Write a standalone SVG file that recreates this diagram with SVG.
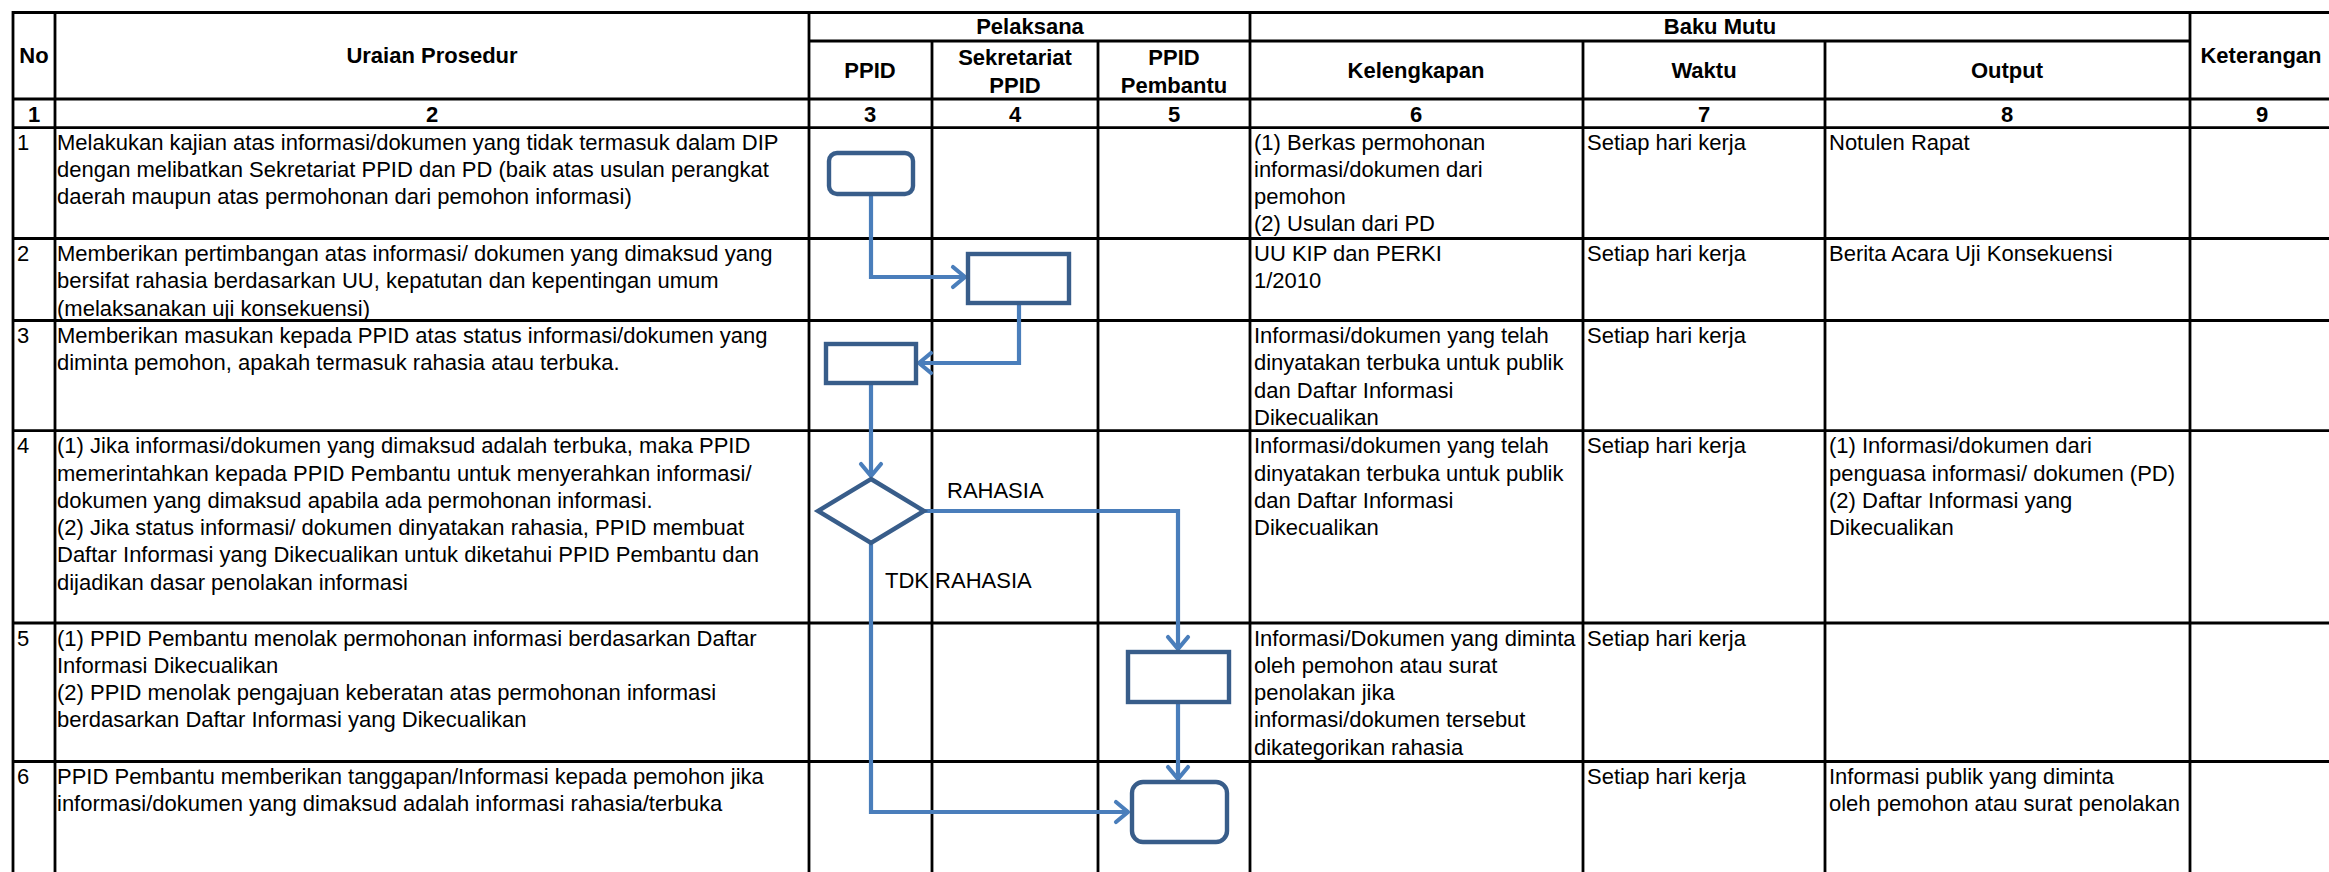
<svg xmlns="http://www.w3.org/2000/svg" width="2329" height="872" viewBox="0 0 2329 872">
<defs>
<style>
.g{stroke:#000;stroke-width:2.8;fill:none}
.h{font-family:"Liberation Sans",Arial,sans-serif;font-size:22px;font-weight:bold;fill:#000;text-anchor:middle}
.t{font-family:"Liberation Sans",Arial,sans-serif;font-size:22px;fill:#000}
.box{fill:#fff;stroke:#385D8A;stroke-width:4.4}
.c{fill:none;stroke:#4A7EBB;stroke-width:4.2;marker-end:url(#arr)}
.lbl{font-family:"Liberation Sans",Arial,sans-serif;font-size:22px;fill:#000}
</style>
<marker id="arr" markerUnits="userSpaceOnUse" markerWidth="34" markerHeight="34" viewBox="-17 -17 34 34" refX="0" refY="0" orient="auto">
<path d="M-12,-10 L0,0 L-12,10" fill="none" stroke="#4A7EBB" stroke-width="4.2" stroke-linecap="round" stroke-linejoin="round"/>
</marker>
</defs>
<rect width="2329" height="872" fill="#fff"/>
<g id="grid" class="g">
<line x1="13" y1="12.5" x2="2329" y2="12.5"/>
<line x1="809" y1="41" x2="2190" y2="41"/>
<line x1="13" y1="99" x2="2329" y2="99"/>
<line x1="13" y1="127.7" x2="2329" y2="127.7"/>
<line x1="13" y1="238.5" x2="2329" y2="238.5"/>
<line x1="13" y1="320.5" x2="2329" y2="320.5"/>
<line x1="13" y1="430.7" x2="2329" y2="430.7"/>
<line x1="13" y1="623" x2="2329" y2="623"/>
<line x1="13" y1="761.5" x2="2329" y2="761.5"/>
<line x1="13" y1="11.1" x2="13" y2="872"/>
<line x1="55" y1="11.1" x2="55" y2="872"/>
<line x1="809" y1="11.1" x2="809" y2="872"/>
<line x1="932" y1="41" x2="932" y2="872"/>
<line x1="1098" y1="41" x2="1098" y2="872"/>
<line x1="1250" y1="11.1" x2="1250" y2="872"/>
<line x1="1583" y1="41" x2="1583" y2="872"/>
<line x1="1825" y1="41" x2="1825" y2="872"/>
<line x1="2190" y1="11.1" x2="2190" y2="872"/>
</g>
<g id="header">
<text class="h" x="34" y="63">No</text>
<text class="h" x="432" y="63">Uraian Prosedur</text>
<text class="h" x="1030" y="34">Pelaksana</text>
<text class="h" x="1720" y="34">Baku Mutu</text>
<text class="h" x="2261" y="63">Keterangan</text>
<text class="h" x="870" y="78">PPID</text>
<text class="h" x="1015" y="65">Sekretariat</text>
<text class="h" x="1015" y="93">PPID</text>
<text class="h" x="1174" y="65">PPID</text>
<text class="h" x="1174" y="93">Pembantu</text>
<text class="h" x="1416" y="78">Kelengkapan</text>
<text class="h" x="1704" y="78">Waktu</text>
<text class="h" x="2007" y="78">Output</text>
<text class="h" x="34" y="121.5">1</text>
<text class="h" x="432" y="121.5">2</text>
<text class="h" x="870" y="121.5">3</text>
<text class="h" x="1015" y="121.5">4</text>
<text class="h" x="1174" y="121.5">5</text>
<text class="h" x="1416" y="121.5">6</text>
<text class="h" x="1704" y="121.5">7</text>
<text class="h" x="2007" y="121.5">8</text>
<text class="h" x="2262" y="121.5">9</text>
</g>
<g id="row1" class="t">
<text x="17" y="149.5">1</text>
<text x="57" y="149.5">Melakukan kajian atas informasi/dokumen yang tidak termasuk dalam DIP</text>
<text x="57" y="176.8">dengan melibatkan Sekretariat PPID dan PD (baik atas usulan perangkat</text>
<text x="57" y="204.1">daerah maupun atas permohonan dari pemohon informasi)</text>
<text x="1254" y="149.5">(1) Berkas permohonan</text>
<text x="1254" y="176.8">informasi/dokumen dari</text>
<text x="1254" y="204.1">pemohon</text>
<text x="1254" y="231.4">(2) Usulan dari PD</text>
<text x="1587" y="149.5">Setiap hari kerja</text>
<text x="1829" y="149.5">Notulen Rapat</text>
</g>
<g id="row2" class="t">
<text x="17" y="261">2</text>
<text x="57" y="261">Memberikan pertimbangan atas informasi/ dokumen yang dimaksud yang</text>
<text x="57" y="288.3">bersifat rahasia berdasarkan UU, kepatutan dan kepentingan umum</text>
<text x="57" y="315.6">(melaksanakan uji konsekuensi)</text>
<text x="1254" y="261">UU KIP dan PERKI</text>
<text x="1254" y="288.3">1/2010</text>
<text x="1587" y="261">Setiap hari kerja</text>
<text x="1829" y="261">Berita Acara Uji Konsekuensi</text>
</g>
<g id="row3" class="t">
<text x="17" y="343">3</text>
<text x="57" y="343">Memberikan masukan kepada PPID atas status informasi/dokumen yang</text>
<text x="57" y="370.3">diminta pemohon, apakah termasuk rahasia atau terbuka.</text>
<text x="1254" y="343">Informasi/dokumen yang telah</text>
<text x="1254" y="370.3">dinyatakan terbuka untuk publik</text>
<text x="1254" y="397.6">dan Daftar Informasi</text>
<text x="1254" y="424.9">Dikecualikan</text>
<text x="1587" y="343">Setiap hari kerja</text>
</g>
<g id="row4" class="t">
<text x="17" y="453.2">4</text>
<text x="57" y="453.2">(1) Jika informasi/dokumen yang dimaksud adalah terbuka, maka PPID</text>
<text x="57" y="480.5">memerintahkan kepada PPID Pembantu untuk menyerahkan informasi/</text>
<text x="57" y="507.8">dokumen yang dimaksud apabila ada permohonan informasi.</text>
<text x="57" y="535.1">(2) Jika status informasi/ dokumen dinyatakan rahasia, PPID membuat</text>
<text x="57" y="562.4">Daftar Informasi yang Dikecualikan untuk diketahui PPID Pembantu dan</text>
<text x="57" y="589.7">dijadikan dasar penolakan informasi</text>
<text x="1254" y="453.2">Informasi/dokumen yang telah</text>
<text x="1254" y="480.5">dinyatakan terbuka untuk publik</text>
<text x="1254" y="507.8">dan Daftar Informasi</text>
<text x="1254" y="535.1">Dikecualikan</text>
<text x="1587" y="453.2">Setiap hari kerja</text>
<text x="1829" y="453.2">(1) Informasi/dokumen dari</text>
<text x="1829" y="480.5">penguasa informasi/ dokumen (PD)</text>
<text x="1829" y="507.8">(2) Daftar Informasi yang</text>
<text x="1829" y="535.1">Dikecualikan</text>
</g>
<g id="row5" class="t">
<text x="17" y="645.5">5</text>
<text x="57" y="645.5">(1) PPID Pembantu menolak permohonan informasi berdasarkan Daftar</text>
<text x="57" y="672.8">Informasi Dikecualikan</text>
<text x="57" y="700.1">(2) PPID menolak pengajuan keberatan atas permohonan informasi</text>
<text x="57" y="727.4">berdasarkan Daftar Informasi yang Dikecualikan</text>
<text x="1254" y="645.5">Informasi/Dokumen yang diminta</text>
<text x="1254" y="672.8">oleh pemohon atau surat</text>
<text x="1254" y="700.1">penolakan jika</text>
<text x="1254" y="727.4">informasi/dokumen tersebut</text>
<text x="1254" y="754.7">dikategorikan rahasia</text>
<text x="1587" y="645.5">Setiap hari kerja</text>
</g>
<g id="row6" class="t">
<text x="17" y="784">6</text>
<text x="57" y="784">PPID Pembantu memberikan tanggapan/Informasi kepada pemohon jika</text>
<text x="57" y="811.3">informasi/dokumen yang dimaksud adalah informasi rahasia/terbuka</text>
<text x="1587" y="784">Setiap hari kerja</text>
<text x="1829" y="784">Informasi publik yang diminta</text>
<text x="1829" y="811.3">oleh pemohon atau surat penolakan</text>
</g>
<g id="connectors">
<path class="c" d="M871 194 V277 H965"/>
<path class="c" d="M1019 303 V363 H919"/>
<path class="c" d="M871 383 V476"/>
<path class="c" d="M924 511 H1178 V649"/>
<path class="c" d="M871 543 V812 H1128"/>
<path class="c" d="M1178 702 V779"/>
<text class="lbl" x="947" y="498">RAHASIA</text>
<text class="lbl" x="885" y="588">TDK RAHASIA</text>
</g>
<g id="n1"><rect class="box" x="829" y="153" width="84" height="41" rx="8"/></g>
<g id="n2"><rect class="box" x="968" y="254" width="101" height="49"/></g>
<g id="n3"><rect class="box" x="826" y="344" width="90" height="39"/></g>
<g id="n4"><path class="box" d="M871 479 L924 511 L871 543 L818 511 Z"/></g>
<g id="n5"><rect class="box" x="1128" y="652" width="101" height="50"/></g>
<g id="n6"><rect class="box" x="1132" y="782" width="95" height="60" rx="11"/></g>
</svg>
